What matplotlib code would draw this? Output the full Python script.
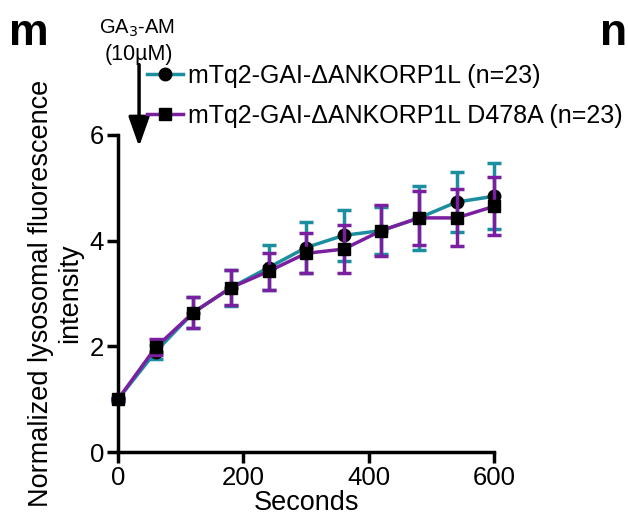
import matplotlib
matplotlib.use('Agg')
from matplotlib import pyplot as plt
from matplotlib.lines import Line2D

plt.rcParams['font.family'] = ['Liberation Sans', 'DejaVu Sans']

seconds = [0, 60, 120, 180, 240, 300, 360, 420, 480, 540, 600]
wt_mean = [1.0, 1.90, 2.64, 3.11, 3.49, 3.87, 4.10, 4.19, 4.43, 4.73, 4.84]
wt_err = [0.03, 0.13, 0.30, 0.34, 0.42, 0.48, 0.48, 0.45, 0.60, 0.57, 0.62]
mut_mean = [1.0, 1.98, 2.64, 3.11, 3.42, 3.76, 3.84, 4.19, 4.43, 4.43, 4.65]
mut_err = [0.03, 0.15, 0.30, 0.33, 0.35, 0.38, 0.45, 0.49, 0.51, 0.54, 0.55]
labels = ['mTq2-GAI-ΔANKORP1L (n=23)', 'mTq2-GAI-ΔANKORP1L D478A (n=23)']

teal = '#1b8fa0'
purple = '#7a1fa0'

fig = plt.figure(figsize=(6.28, 5.19), dpi=100)
ax = fig.add_axes([0.188, 0.129, 0.599, 0.611])

ax.errorbar(seconds, wt_mean, yerr=wt_err, color=teal, lw=2.5, elinewidth=2.5,
            capsize=5, capthick=2.5, marker='o', ms=9, mfc='black', mec='black',
            zorder=3, clip_on=False)
ax.errorbar(seconds, mut_mean, yerr=mut_err, color=purple, lw=2.5, elinewidth=2.5,
            capsize=5, capthick=2.5, marker='s', ms=9, mfc='black', mec='black',
            zorder=4, clip_on=False)

ax.set_xlim(0, 600)
ax.set_ylim(0, 6)
ax.set_xticks([0, 200, 400, 600])
ax.set_yticks([0, 2, 4, 6])
ax.spines['top'].set_visible(False)
ax.spines['right'].set_visible(False)
for s in ['left', 'bottom']:
    ax.spines[s].set_linewidth(2.5)
ax.tick_params(width=2.5, length=8, labelsize=18.5, pad=2)
ax.set_xlabel('Seconds', fontsize=19.5, labelpad=0)
ax.set_ylabel('Normalized lysosomal fluorescence\nintensity', fontsize=19.5,
              labelpad=5, linespacing=1.15)

handles = [Line2D([], [], color=teal, lw=2.5, marker='o', ms=9, mfc='black', mec='black'),
           Line2D([], [], color=purple, lw=2.5, marker='s', ms=9, mfc='black', mec='black')]
fig.legend(handles, labels, loc='upper left', bbox_to_anchor=(147 / 628, 1 - 64 / 519),
           frameon=False, fontsize=18, handlelength=1.45, handletextpad=0.2,
           labelspacing=0.64, borderpad=0, borderaxespad=0)

# stimulus arrow
ax.annotate('', xy=(33.5, 5.78), xycoords='data',
            xytext=(33.5, 7.33), textcoords='data',
            arrowprops=dict(arrowstyle='-|>,head_width=0.32,head_length=0.9',
                            mutation_scale=20, color='black', lw=2.5,
                            shrinkA=0, shrinkB=0))
fig.text(137 / 628, 1 - 28 / 519, 'GA$_3$-AM', ha='center', va='center', fontsize=14.5)
fig.text(139 / 628, 1 - 54 / 519, '(10µM)', ha='center', va='center', fontsize=15.5)

fig.text(0.015, 0.975, 'm', fontsize=32, fontweight='bold', va='top')
fig.text(0.999, 0.975, 'n', fontsize=32, fontweight='bold', va='top', ha='right')

fig.savefig('out.png', dpi=100)
